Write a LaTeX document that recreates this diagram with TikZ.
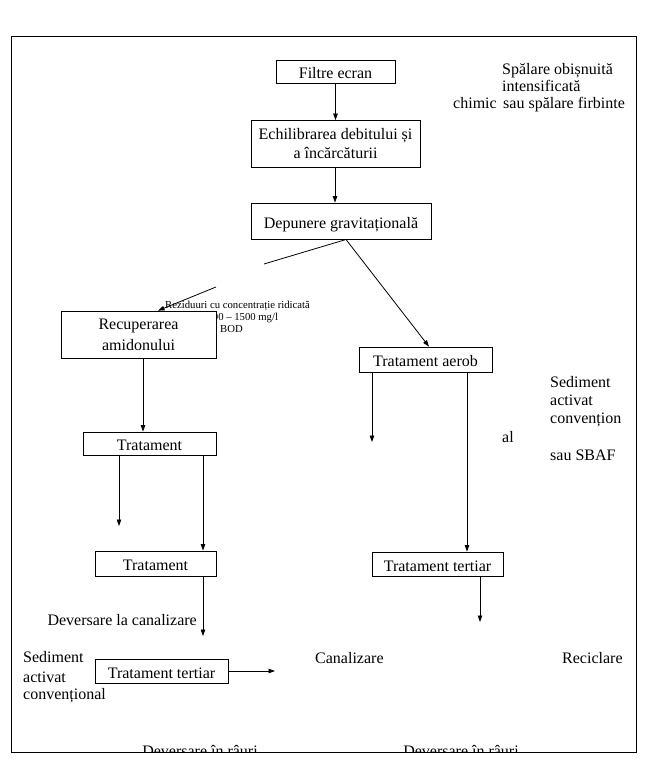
\documentclass[tikz,border=0pt]{standalone}
\usepackage{fontspec}
\setmainfont{Liberation Serif}
\usetikzlibrary{arrows.meta}

\tikzset{
  box/.style={draw, fill=white, inner sep=0pt, align=center, line width=0.8pt},
  oneline/.style={text height=14pt, text depth=0pt},
  arr/.style={line width=0.8pt, -{Triangle[length=6.5pt,width=4.5pt]}},
  lnk/.style={line width=0.8pt},
  lbl/.style={inner sep=0pt, anchor=base west},
  small/.style={inner sep=0pt, anchor=base west, font=\fontsize{10.7}{12}\selectfont}
}

\begin{document}
\begin{tikzpicture}[x=1pt,y=-1pt,font=\fontsize{16}{19}\selectfont]
\useasboundingbox (0,0) rectangle (660,759);

% frame
\draw[lnk] (11,36) rectangle (636,752);

% note for the high-load residue
\node[small] (rez) at (165,308) {Reziduuri cu concentrație ridicată};
\node[small] (load) at (202,320) {1000 – 1500 mg/l};
\node[small] (bod) at (220,332) {BOD};

% main chain
\node[box, oneline, minimum width=119, minimum height=23] (filtre) at (335.5,71.5) {Filtre ecran};
\node[box, minimum width=169, minimum height=47] (echil) at (335.5,144) {Echilibrarea debitului și\\a încărcăturii};
\node[box, oneline, minimum width=180, minimum height=36] (depun) at (341,221) {Depunere gravitațională};
\node[box, minimum width=155, minimum height=47] (recup) at (138.5,334.5) {Recuperarea\\[2pt]amidonului};
\node[box, oneline, minimum width=133, minimum height=25] (aerob) at (425.5,359.5) {Tratament aerob};
\node[box, oneline, minimum width=133, minimum height=23] (trat1) at (149.5,443.5) {Tratament};
\node[box, oneline, minimum width=121, minimum height=25] (trat2) at (155.5,563.5) {Tratament};
\node[box, oneline, minimum width=131, minimum height=24] (tert1) at (437.5,564) {Tratament tertiar};
\node[box, oneline, minimum width=133, minimum height=24] (tert2) at (161.5,671) {Tratament tertiar};

% free ends
\coordinate (split) at (346,239.5);
\coordinate (brkA) at (264,264);
\coordinate (brkB) at (216,287);
\coordinate (endA) at (119,526);
\coordinate (endB) at (203,636);
\coordinate (endC) at (372,442);
\coordinate (endD) at (480,622);
\coordinate (endE) at (275,671);

% connectors
\draw[arr] (filtre) -- (echil);
\draw[arr] (335,0 |- echil.south) -- (335,0 |- depun.north);
\draw[lnk] (split) -- (brkA);
\draw[arr] (brkB) -- (158,0 |- recup.north);
\draw[arr] (split) -- (429,0 |- aerob.north);
\draw[arr] (143,0 |- recup.south) -- (143,0 |- trat1.north);
\draw[arr] (endA |- trat1.south) -- (endA);
\draw[arr] (203,0 |- trat1.south) -- (203,0 |- trat2.north);
\draw[arr] (endB |- trat2.south) -- (endB);
\draw[arr] (endC |- aerob.south) -- (endC);
\draw[arr] (467,0 |- aerob.south) -- (467,0 |- tert1.north);
\draw[arr] (endD |- tert1.south) -- (endD);
\draw[arr] (tert2.east) -- (endE);

% labels
\node[lbl] (spal) at (502,75) {Spălare obișnuită};
\node[lbl] (intens) at (502,92) {intensificată};
\node[lbl] (chim) at (453,109) {chimic};
\node[lbl] (cald) at (503,109) {sau spălare firbinte};

\node[lbl] (al) at (502,442) {al};
\node[lbl] (sedR) at (550,387) {Sediment};
\node[lbl] (actR) at (550,405) {activat};
\node[lbl] (convR) at (550,423) {convențion};
\node[lbl] (sbaf) at (550,460) {sau SBAF};

\node[inner sep=0pt, anchor=base east] (devcan) at (197,625) {Deversare la canalizare};
\node[lbl] (sedL) at (23,662) {Sediment};
\node[lbl] (actL) at (23,682) {activat};
\node[lbl] (convL) at (23,699) {convențional};
\node[lbl] (canal) at (315,663) {Canalizare};
\node[lbl] (recic) at (562,663) {Reciclare};

% cut off by the frame
\begin{scope}
  \clip (0,0) rectangle (660,751.5);
  \node[inner sep=0pt, anchor=base] (rauA) at (200,756) {Deversare în râuri};
  \node[inner sep=0pt, anchor=base] (rauB) at (461,756) {Deversare în râuri};
\end{scope}

\end{tikzpicture}
\end{document}
